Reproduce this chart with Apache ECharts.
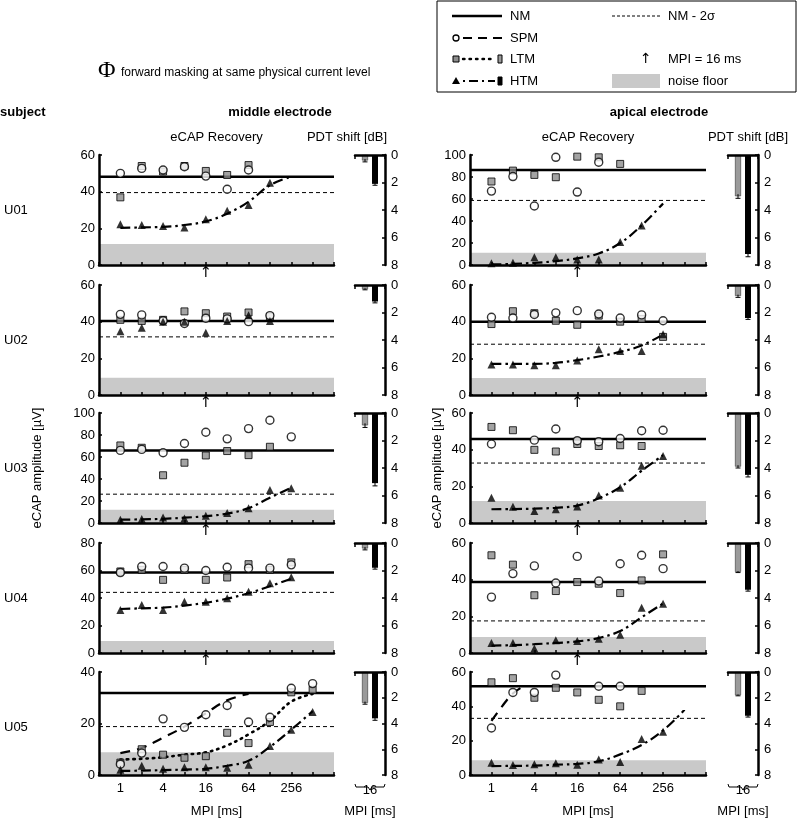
<!DOCTYPE html>
<html><head><meta charset="utf-8">
<script src="https://cdn.jsdelivr.net/npm/echarts@6/dist/echarts.min.js"></script>
<style>html,body{margin:0;padding:0;background:#fff}#c{width:798px;height:819px}</style>
</head><body><div id="c"></div>
<script>
// ---------------- DATA ----------------
const MPI = [1,2,4,8,16,32,64,128,256,512];
const SUBJECTS = ['U01','U02','U03','U04','U05'];
const X_LABELS = [1,4,16,64,256];
const ARROW_MPI = 16;
const BAR_CATEGORY = ['16'];

// middle electrode
const NM_mid    = [48.2, 40.4, 66, 58.5, 31.8];
const NM2s_mid  = [39.5, 31.7, 26.2, 44.1, 18.8];
const NOISE_mid = [11.5, 9.4, 12, 8.8, 8.8];
const YMAX_mid  = [60, 60, 100, 80, 40];

const mid_U01_SPM = [50,52.7,51.8,53.6,48.5,41.3,51.8,null,null,null];
const mid_U01_LTM = [36.9,54,51,54,51.3,49.1,54.5,null,null,null];
const mid_U01_HTM = [22.2,21.8,21.3,20.4,24.9,29.6,32.7,44.9,null,null];
const mid_U01_HTMfit = [20.3,20.5,20.8,21.8,23.8,28,34.5,43.5,48.2,null];

const mid_U02_SPM = [44,43.7,40.5,39,41.9,41.5,40,43.3,null,null];
const mid_U02_LTM = [41,40.4,41,45.6,44.6,42.8,45,42.8,null,null];
const mid_U02_HTM = [34.8,36.7,40,40,33.9,40.4,43.5,40.4,null,null];

const mid_U03_SPM = [66,66.9,63.9,72.3,82.5,76.5,85.8,93.4,78.3,null];
const mid_U03_LTM = [70.5,68.4,43.4,54.8,61.4,65.4,61.7,69.3,null,null];
const mid_U03_HTM = [3,3.6,5.1,4.2,6.6,9,13.3,30.1,31.6,null];
const mid_U03_HTMfit = [3,3.3,3.8,4.8,6.2,8.5,13.5,23,32,null];

const mid_U04_SPM = [58.5,62.9,62.9,61.7,60,62.4,61.7,61.7,64.1,null];
const mid_U04_LTM = [59.3,60.5,53.2,60.5,53.2,54.9,64.6,60.5,65.9,null];
const mid_U04_HTM = [31.2,34.9,31.2,37.3,37.3,39.8,44.6,50.7,55.1,null];
const mid_U04_HTMfit = [32,32.5,33,34.5,36.5,39.5,43.5,48.5,54,null];

const mid_U05_SPM = [4.2,8.5,21.8,18.5,23.4,27,20.6,22.4,33.7,35.5];
const mid_U05_LTM = [4.8,10,7.9,6.7,7.3,16.4,12.4,20.6,32.1,33.1];
const mid_U05_HTM = [2,3.6,2.4,3,3,2.8,4,11.3,17.6,24.5];
const mid_U05_SPMfit = [8.5,10.5,14.5,18.8,24,29,31.5,null,null,null];
const mid_U05_LTMfit = [6,6.3,6.9,7.9,8.8,11.5,15.8,21,28.5,31.5];
const mid_U05_HTMfit = [1.6,1.7,1.9,2.1,2.4,3.6,5.5,10.9,17.6,24.8];

// apical electrode
const NM_api    = [86.4, 40, 45.8, 38.7, 51.7];
const NM2s_api  = [58.7, 27.7, 32.7, 17.5, 33];
const NOISE_api = [11.1, 9.3, 12, 8.7, 8.6];
const YMAX_api  = [100, 60, 60, 60, 60];

const api_U01_SPM = [67.2,80.4,53.6,97.9,66.3,93.4,null,null,null,null];
const api_U01_LTM = [75.9,85.8,81.9,79.8,98.5,97.9,91.9,null,null,null];
const api_U01_HTM = [1.5,2,7,7,5,5,21,36,null,null];
const api_U01_HTMfit = [0.5,1,2,3.5,6,10.5,20,36,56,null];

const api_U02_SPM = [42.4,42,43.9,44.8,46,44.2,42,43.7,40.5,null];
const api_U02_LTM = [38.7,45.7,44.6,40.5,38.3,43.3,40,41.5,31.7,null];
const api_U02_HTM = [16.6,16.6,16.2,16.2,18.8,24.9,24,24,33.2,null];
const api_U02_HTMfit = [17,17,17,17.5,19,21,23.5,27,33,null];

const api_U03_SPM = [43.1,null,45.2,51.3,44.9,44.3,46.1,50.3,50.6,null];
const api_U03_LTM = [52.4,50.6,39.9,39,43.1,42,42.4,42,null,null];
const api_U03_HTM = [13.8,8.8,6.6,7.5,9,15,19.2,31.2,36.6,null];
const api_U03_HTMfit = [7.5,7.6,7.8,8.3,9.5,13.5,19.5,28.5,37,null];

const api_U04_SPM = [30.5,43.3,47.5,38.2,52.7,39.3,48.7,53.3,46,null];
const api_U04_LTM = [53.3,48.2,31.5,33.8,38.7,37.8,32.7,39.6,53.8,null];
const api_U04_HTM = [5.5,5.5,2.4,6.9,6.5,7.8,10,24.7,26.9,null];
const api_U04_HTMfit = [4,4.3,4.8,5.5,6.3,8.2,12,19.5,27,null];

const api_U05_SPM = [27.4,48.1,48.1,58.2,null,51.7,51.7,null,null,null];
const api_U05_LTM = [54,56.4,45,50.8,48.1,43.8,40,49,null,null];
const api_U05_HTM = [7.2,5.8,6.3,6.8,5.9,9,7.6,21,25.2,null];
const api_U05_HTMfit = [5.2,5.3,5.5,6,6.5,8,12,17.5,26,38];
const api_U05_SPMfit_MPI = [1,1.41,2,2.83];
const api_U05_SPMfit = [31.5,40,47.5,51.7];

// PDT shift [dB] at MPI = 16 ms
const PDT_mid_LTM = [0.4, 0.3, 0.9, 0.4, 2.4];
const PDT_mid_HTM = [2.1, 1.2, 5.1, 1.8, 3.6];
const PDT_mid_LTM_err = [0.1, 0.05, 0.15, 0.1, 0.1];
const PDT_mid_HTM_err = [0.1, 0.1, 0.2, 0.1, 0.15];
const PDT_api_LTM = [3.0, 0.8, 3.9, 2.1, 1.8];
const PDT_api_HTM = [7.2, 2.4, 4.5, 3.4, 3.4];
const PDT_api_LTM_err = [0.15, 0.1, 0.1, 0.05, 0.05];
const PDT_api_HTM_err = [0.2, 0.1, 0.15, 0.1, 0.1];

// ---------------- LAYOUT / STYLE ----------------
const FONT = 'Liberation Sans, Arial, sans-serif';
const ROW_TOP = [155, 285, 413, 543, 672];
const ROW_H = 110;
const COLS = [
  {ecapLeft: 99, ecapW: 235, barLeft: 355, barW: 30, nameGap: 55, pdtTitleX: 347},
  {ecapLeft: 470, ecapW: 236, barLeft: 728, barW: 30, nameGap: 26, pdtTitleX: 748}
];
const GRAY_SQ = '#8c8c8c', NOISE_COL = '#c9c9c9', BAR_GRAY = '#9a9a9a';
const BAR_W = 6, BAR_GAP = 4;

const COLDATA = [
  {NM: NM_mid, NM2s: NM2s_mid, NOISE: NOISE_mid, YMAX: YMAX_mid,
   SPM: [mid_U01_SPM, mid_U02_SPM, mid_U03_SPM, mid_U04_SPM, mid_U05_SPM],
   LTM: [mid_U01_LTM, mid_U02_LTM, mid_U03_LTM, mid_U04_LTM, mid_U05_LTM],
   HTM: [mid_U01_HTM, mid_U02_HTM, mid_U03_HTM, mid_U04_HTM, mid_U05_HTM],
   FITS: [
     [{k:'HTM', x: MPI, y: mid_U01_HTMfit}],
     [],
     [{k:'HTM', x: MPI, y: mid_U03_HTMfit}],
     [{k:'HTM', x: MPI, y: mid_U04_HTMfit}],
     [{k:'SPM', x: MPI, y: mid_U05_SPMfit},{k:'LTM', x: MPI, y: mid_U05_LTMfit},{k:'HTM', x: MPI, y: mid_U05_HTMfit}]
   ],
   PL: PDT_mid_LTM, PH: PDT_mid_HTM, EL: PDT_mid_LTM_err, EH: PDT_mid_HTM_err},
  {NM: NM_api, NM2s: NM2s_api, NOISE: NOISE_api, YMAX: YMAX_api,
   SPM: [api_U01_SPM, api_U02_SPM, api_U03_SPM, api_U04_SPM, api_U05_SPM],
   LTM: [api_U01_LTM, api_U02_LTM, api_U03_LTM, api_U04_LTM, api_U05_LTM],
   HTM: [api_U01_HTM, api_U02_HTM, api_U03_HTM, api_U04_HTM, api_U05_HTM],
   FITS: [
     [{k:'HTM', x: MPI, y: api_U01_HTMfit}],
     [{k:'HTM', x: MPI, y: api_U02_HTMfit}],
     [{k:'HTM', x: MPI, y: api_U03_HTMfit}],
     [{k:'HTM', x: MPI, y: api_U04_HTMfit}],
     [{k:'SPM', x: api_U05_SPMfit_MPI, y: api_U05_SPMfit},{k:'HTM', x: MPI, y: api_U05_HTMfit}]
   ],
   PL: PDT_api_LTM, PH: PDT_api_HTM, EL: PDT_api_LTM_err, EH: PDT_api_HTM_err}
];

const FIT_STYLE = {
  SPM: {type: [10, 7], width: 2.2, cap: 'butt'},
  LTM: {type: [1.5, 5], width: 2.6, cap: 'round'},
  HTM: {type: [10, 4, 2.5, 4], width: 2.2, cap: 'butt'}
};

const L2 = v => Math.log2(v);
const pair = (xs, ys) => xs.map((m, i) => [L2(m), ys[i]]);

const grids = [], xAxes = [], yAxes = [], series = [];
const axisLineStyle = {show: true, onZero: false, lineStyle: {color: '#000', width: 2.5}};
const tickStyle = {show: true, inside: true, length: 3, lineStyle: {color: '#000', width: 1.5}};
const labelBase = {color: '#000', fontSize: 13, fontFamily: FONT};

for (let r = 0; r < 5; r++) {
  for (let c = 0; c < 2; c++) {
    const L = COLS[c], D = COLDATA[c];
    const last = r === 4;
    // ---- eCAP grid ----
    const gi = grids.length;
    grids.push({left: L.ecapLeft, top: ROW_TOP[r], width: L.ecapW, height: ROW_H});
    const xi = xAxes.length;
    xAxes.push({
      gridIndex: gi, type: 'value', min: -1, max: 10, interval: 1, z: 10,
      axisLine: axisLineStyle, axisTick: tickStyle, splitLine: {show: false},
      axisLabel: Object.assign({}, labelBase, last ? {
        margin: 7,
        formatter: v => (Number.isInteger(v) && X_LABELS.includes(Math.pow(2, v))) ? String(Math.pow(2, v)) : ''
      } : {
        margin: 1, fontSize: 15, fontFamily: 'DejaVu Sans',
        formatter: v => Math.abs(Math.pow(2, v) - ARROW_MPI) < 1e-6 ? '\u2191' : ''
      }),
      name: last ? 'MPI [ms]' : '', nameLocation: 'middle', nameGap: 30,
      nameTextStyle: labelBase
    });
    const yi = yAxes.length;
    yAxes.push({
      gridIndex: gi, type: 'value', min: 0, max: D.YMAX[r], interval: 20, z: 10,
      axisLine: axisLineStyle, axisTick: tickStyle, splitLine: {show: false},
      axisLabel: Object.assign({}, labelBase, {margin: 4}),
      name: r === 2 ? 'eCAP amplitude [\u00b5V]' : '', nameLocation: 'middle', nameGap: L.nameGap,
      nameTextStyle: labelBase
    });
    const ax = {xAxisIndex: xi, yAxisIndex: yi};
    series.push(Object.assign({type: 'line', data: [[-1, D.NOISE[r]], [10, D.NOISE[r]]], symbol: 'none',
      lineStyle: {width: 0}, areaStyle: {color: NOISE_COL, opacity: 1}, z: 1, silent: true}, ax));
    series.push(Object.assign({type: 'line', data: [[-1, D.NM[r]], [10, D.NM[r]]], symbol: 'none',
      lineStyle: {color: '#000', width: 2.5}, z: 2}, ax));
    series.push(Object.assign({type: 'line', data: [[-1, D.NM2s[r]], [10, D.NM2s[r]]], symbol: 'none',
      lineStyle: {color: '#000', width: 1, type: [4, 3]}, z: 2}, ax));
    D.FITS[r].forEach(f => {
      series.push(Object.assign({type: 'line', data: pair(f.x, f.y), symbol: 'none', smooth: 0.4,
        lineStyle: Object.assign({color: '#000'}, FIT_STYLE[f.k]), z: 3}, ax));
    });
    series.push(Object.assign({type: 'scatter', data: pair(MPI, D.LTM[r]).filter(p => p[1] != null), symbol: 'rect', symbolSize: 7,
      itemStyle: {color: GRAY_SQ, borderColor: '#000', borderWidth: 1}, z: 4}, ax));
    series.push(Object.assign({type: 'scatter', data: pair(MPI, D.SPM[r]).filter(p => p[1] != null), symbol: 'circle', symbolSize: 8,
      itemStyle: {color: '#fff', borderColor: '#000', borderWidth: 1.4}, z: 5}, ax));
    series.push(Object.assign({type: 'scatter', data: pair(MPI, D.HTM[r]).filter(p => p[1] != null), symbol: 'triangle', symbolSize: 8,
      itemStyle: {color: '#000'}, z: 6}, ax));

    // ---- PDT bar grid ----
    const bg = grids.length;
    grids.push({left: L.barLeft, top: ROW_TOP[r], width: L.barW, height: ROW_H});
    const bxi = xAxes.length;
    xAxes.push({gridIndex: bg, type: 'category', data: BAR_CATEGORY, position: 'top', z: 10,
      axisLine: axisLineStyle, axisTick: {show: true, inside: true, length: 4, lineStyle: {color: '#000', width: 1.5}},
      axisLabel: {show: false}, splitLine: {show: false}});
    if (last) {
      xAxes.push({gridIndex: bg, type: 'category', data: BAR_CATEGORY, position: 'bottom',
        axisLine: {show: false, onZero: false}, axisTick: {show: false},
        axisLabel: Object.assign({}, labelBase, {margin: 9}),
        name: 'MPI [ms]', nameLocation: 'middle', nameGap: 30, nameTextStyle: labelBase});
    }
    const byi = yAxes.length;
    yAxes.push({gridIndex: bg, type: 'value', min: 0, max: 8, interval: 2, inverse: true, position: 'right', z: 10,
      axisLine: axisLineStyle, axisTick: tickStyle, splitLine: {show: false},
      axisLabel: Object.assign({}, labelBase, {margin: 6})});
    const bax = {xAxisIndex: bxi, yAxisIndex: byi};
    series.push(Object.assign({type: 'bar', data: [D.PL[r]], barWidth: BAR_W, barGap: (BAR_GAP / BAR_W * 100) + '%',
      itemStyle: {color: BAR_GRAY, borderColor: '#333', borderWidth: 0.6}, z: 2}, bax));
    series.push(Object.assign({type: 'bar', data: [D.PH[r]], barWidth: BAR_W,
      itemStyle: {color: '#000'}, z: 2}, bax));
    const errData = [[0, D.PL[r], D.EL[r], -1], [0, D.PH[r], D.EH[r], 1]];
    series.push(Object.assign({type: 'custom', data: errData, z: 5,
      renderItem: (params, api) => {
        const v = api.value(1), e = api.value(2), side = api.value(3);
        const base = api.coord([api.value(0), v]);
        const cx = base[0] + side * (BAR_W + BAR_GAP) / 2;
        const yLo = api.coord([api.value(0), v + e])[1];
        const yHi = api.coord([api.value(0), v - e])[1];
        const st = {stroke: '#000', lineWidth: 1};
        return {type: 'group', children: [
          {type: 'line', shape: {x1: cx, y1: yHi, x2: cx, y2: yLo}, style: st},
          {type: 'line', shape: {x1: cx - 2.5, y1: yLo, x2: cx + 2.5, y2: yLo}, style: st}
        ]};
      }}, bax));
  }
}

// ---------------- TEXT / LEGEND GRAPHICS ----------------
const txt = (x, y, s, extra) => ({type: 'text', x: x, y: y,
  style: Object.assign({text: s, fill: '#000', font: '13px ' + FONT, verticalAlign: 'middle'}, extra || {})});

const graphic = [];
graphic.push(txt(0, 112, 'subject', {font: 'bold 13px ' + FONT}));
graphic.push(txt(280, 112, 'middle electrode', {font: 'bold 13px ' + FONT, align: 'center'}));
graphic.push(txt(659, 112, 'apical electrode', {font: 'bold 13px ' + FONT, align: 'center'}));
COLS.forEach(L => {
  graphic.push(txt(L.ecapLeft + L.ecapW / 2, 137, 'eCAP Recovery', {align: 'center'}));
  graphic.push(txt(L.pdtTitleX, 137, 'PDT shift [dB]', {align: 'center'}));
});
SUBJECTS.forEach((s, r) => graphic.push(txt(4, ROW_TOP[r] + ROW_H / 2, s)));
graphic.push(txt(98, 71, '\u03a6', {font: '24px Liberation Serif, serif'}));
graphic.push(txt(121, 73, 'forward masking at same physical current level', {font: '12px ' + FONT}));

COLS.forEach(L => {
  const x0 = L.barLeft, x1 = L.barLeft + L.barW, xc = (x0 + x1) / 2, y0 = ROW_TOP[4] + ROW_H + 2;
  graphic.push({type: 'polyline', shape: {points: [[x0, y0], [x0 + 1, y0 + 3], [xc - 2, y0 + 3], [xc, y0 + 6], [xc + 2, y0 + 3], [x1 - 1, y0 + 3], [x1, y0]]},
    style: {stroke: '#000', fill: null, lineWidth: 1}});
});

// legend box
const LG = {x: 437, y: 1, w: 359, h: 91};
graphic.push({type: 'rect', shape: {x: LG.x, y: LG.y, width: LG.w, height: LG.h}, style: {stroke: '#000', fill: '#fff', lineWidth: 1}});
const rowsY = [16, 38, 59, 81];
const lx0 = 452, lx1 = 502, tx = 510, rx0 = 612, rx1 = 660, rtx = 668;
graphic.push({type: 'line', shape: {x1: lx0, y1: rowsY[0], x2: lx1, y2: rowsY[0]}, style: {stroke: '#000', lineWidth: 2.5}});
graphic.push(txt(tx, rowsY[0], 'NM'));
graphic.push({type: 'line', shape: {x1: rx0, y1: rowsY[0], x2: rx1, y2: rowsY[0]}, style: {stroke: '#000', lineWidth: 1, lineDash: [3, 2]}});
graphic.push(txt(rtx, rowsY[0], 'NM - 2\u03c3'));
graphic.push({type: 'circle', shape: {cx: 456, cy: rowsY[1], r: 3}, style: {stroke: '#000', fill: '#fff', lineWidth: 1.3}});
graphic.push({type: 'line', shape: {x1: 463, y1: rowsY[1], x2: lx1, y2: rowsY[1]}, style: {stroke: '#000', lineWidth: 2.2, lineDash: [9, 6]}});
graphic.push(txt(tx, rowsY[1], 'SPM'));
graphic.push({type: 'rect', shape: {x: 453, y: rowsY[2] - 3, width: 6, height: 6}, style: {stroke: '#000', fill: GRAY_SQ, lineWidth: 1}});
graphic.push({type: 'line', shape: {x1: 463, y1: rowsY[2], x2: 494, y2: rowsY[2]}, style: {stroke: '#000', lineWidth: 2.4, lineDash: [1.5, 5], lineCap: 'round'}});
graphic.push({type: 'rect', shape: {x: 498, y: rowsY[2] - 4, width: 4, height: 8}, style: {stroke: '#000', fill: BAR_GRAY, lineWidth: 1}});
graphic.push(txt(tx, rowsY[2], 'LTM'));
graphic.push(txt(640, rowsY[2], '\u2191', {font: '14px DejaVu Sans'}));
graphic.push(txt(rtx, rowsY[2], 'MPI = 16 ms'));
graphic.push({type: 'polygon', shape: {points: [[456, rowsY[3] - 4], [452, rowsY[3] + 3], [460, rowsY[3] + 3]]}, style: {fill: '#000'}});
graphic.push({type: 'line', shape: {x1: 463, y1: rowsY[3], x2: 495, y2: rowsY[3]}, style: {stroke: '#000', lineWidth: 2.2, lineDash: [2, 4, 9, 4]}});
graphic.push({type: 'rect', shape: {x: 498, y: rowsY[3] - 4, width: 4, height: 8}, style: {stroke: '#000', fill: '#000', lineWidth: 1}});
graphic.push(txt(tx, rowsY[3], 'HTM'));
graphic.push({type: 'rect', shape: {x: rx0, y: rowsY[3] - 7, width: rx1 - rx0, height: 14}, style: {fill: NOISE_COL}});
graphic.push(txt(rtx, rowsY[3], 'noise floor'));

const chart = echarts.init(document.getElementById('c'));
chart.setOption({
  animation: false,
  backgroundColor: '#fff',
  textStyle: {fontFamily: FONT},
  grid: grids, xAxis: xAxes, yAxis: yAxes, series: series, graphic: graphic
});
</script></body></html>
